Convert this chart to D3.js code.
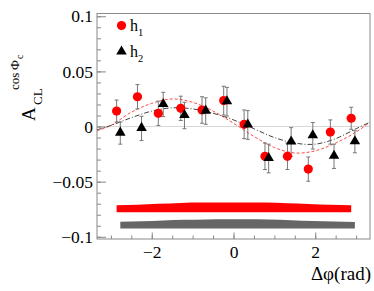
<!DOCTYPE html>
<html>
<head>
<meta charset="utf-8">
<script src="https://cdn.jsdelivr.net/npm/d3@7"></script>
<style>
  html, body { margin: 0; padding: 0; background: #fff; }
</style>
</head>
<body>
<svg id="chart" width="374" height="291"></svg>
<script>
// bin centres (rad) for h1; h2 points sit a bit to the right
const phiH1 = [-2.86, -2.35, -1.84, -1.29, -0.77, -0.24, 0.26, 0.77, 1.32, 1.83, 2.37, 2.88];
const phiH2 = [-2.77, -2.25, -1.72, -1.20, -0.68, -0.16, 0.35, 0.86, 1.41, 1.94, 2.46, 2.97];

const valH1 = [0.014, 0.027, 0.012, 0.0165, 0.015, 0.0235, 0.002, -0.027, -0.027, -0.0386, -0.005, 0.0075];
const errH1 = [0.010, 0.011, 0.011, 0.011, 0.012, 0.013, 0.013, 0.012, 0.012, 0.011, 0.011, 0.010];
const valH2 = [-0.006, -0.0017, 0.020, 0.010, 0.014, 0.0225, 0.0014, -0.029, -0.014, -0.0084, -0.027, -0.0138];
const errH2 = [0.010, 0.011, 0.011, 0.012, 0.012, 0.013, 0.013, 0.013, 0.013, 0.012, 0.011, 0.010];

// systematic bands (base level + height per bin)
const sysBaseH1 = -0.0777;
const sysH1 = [0.0063, 0.0068, 0.0076, 0.0084, 0.0087, 0.0088, 0.0088, 0.0087, 0.0082, 0.0075, 0.0068, 0.0063];
const sysBaseH2 = -0.0925;
const sysH2 = [0.0061, 0.0066, 0.0073, 0.0079, 0.0082, 0.0083, 0.0083, 0.0081, 0.0076, 0.0069, 0.0063, 0.0060];

// fit curves
const fitPhi = [-3.34, -3, -2.5, -2, -1.5, -1, -0.5, 0, 0.5, 1, 1.5, 2, 2.5, 3, 3.34];
const fitH1 = [-0.004, 0.001, 0.013, 0.021, 0.025, 0.022, 0.014, 0.003, -0.009, -0.019, -0.024, -0.022, -0.015, -0.005, 0.004];
const fitH2 = [-0.003, 0.001, 0.008, 0.014, 0.017, 0.016, 0.012, 0.006, -0.002, -0.010, -0.015, -0.016, -0.011, -0.002, 0.004];

const yTicks = [-0.1, -0.05, 0, 0.05, 0.1];
const yTickLabels = ["\u22120.1", "\u22120.05", "0", "0.05", "0.1"];
const xTicks = [-2, 0, 2];
const xTickLabels = ["\u22122", "0", "2"];

(function () {
  const svg = d3.select("#chart");
  const serif = "Liberation Serif";
  const fL = 97, fR = 370, fT = 13.5, fB = 239;

  const x = d3.scaleLinear().domain([-3.34, 3.34]).range([fL, fR]);
  const y = d3.scaleLinear().domain([-0.102, 0.1025]).range([fB, fT]);

  svg.append("defs").append("clipPath").attr("id", "clip")
    .append("rect").attr("x", fL).attr("y", fT)
    .attr("width", fR - fL).attr("height", fB - fT);

  // zero line
  svg.append("line")
    .attr("x1", fL).attr("x2", fR)
    .attr("y1", y(0)).attr("y2", y(0))
    .attr("stroke", "#d8d8d8").attr("stroke-width", 1);

  // axes: ticks point inward
  const yMinor = d3.range(-10, 11).map(i => i / 100);
  svg.append("g").attr("transform", `translate(${fL},0)`)
    .call(d3.axisLeft(y).tickValues(yMinor).tickSize(-4).tickFormat(""))
    .call(g => g.select(".domain").remove())
    .call(g => g.selectAll("line").attr("stroke", "#888"));

  svg.append("g").attr("transform", `translate(${fL},0)`)
    .call(d3.axisLeft(y).tickValues(yTicks).tickSize(-9).tickPadding(4)
      .tickFormat((d, i) => yTickLabels[i]))
    .call(g => g.select(".domain").remove())
    .call(g => g.selectAll("line").attr("stroke", "#888"))
    .call(g => g.selectAll("text").attr("font-family", serif)
      .attr("font-size", 17.5).attr("fill", "#000"));

  const xMinor = d3.range(-6, 7).map(i => i / 2);
  svg.append("g").attr("transform", `translate(0,${fB})`)
    .call(d3.axisBottom(x).tickValues(xMinor).tickSize(-3.5).tickFormat(""))
    .call(g => g.select(".domain").remove())
    .call(g => g.selectAll("line").attr("stroke", "#888"));

  svg.append("g").attr("transform", `translate(0,${fB})`)
    .call(d3.axisBottom(x).tickValues(xTicks).tickSize(-6.5).tickPadding(7)
      .tickFormat((d, i) => xTickLabels[i]))
    .call(g => g.select(".domain").remove())
    .call(g => g.selectAll("line").attr("stroke", "#888"))
    .call(g => g.selectAll("text").attr("font-family", serif)
      .attr("font-size", 17.5).attr("fill", "#000"));

  // frame
  svg.append("rect")
    .attr("x", fL).attr("y", fT)
    .attr("width", fR - fL).attr("height", fB - fT)
    .attr("fill", "none").attr("stroke", "#8a8a8a").attr("stroke-width", 1);

  const plot = svg.append("g").attr("clip-path", "url(#clip)");

  // systematic bands
  const band = (phi, base, sys) => d3.area()
    .x((d, i) => x(phi[i]))
    .y0(() => y(base))
    .y1((d, i) => y(base + sys[i]))
    .curve(d3.curveMonotoneX)(sys);

  plot.append("path").attr("d", band(phiH1, sysBaseH1, sysH1)).attr("fill", "#ff0000");
  plot.append("path").attr("d", band(phiH2, sysBaseH2, sysH2)).attr("fill", "#666666");

  // fit curves
  const fitLine = vals => d3.line()
    .x((d, i) => x(fitPhi[i]))
    .y(d => y(d))
    .curve(d3.curveCatmullRom)(vals);

  plot.append("path").attr("d", fitLine(fitH1))
    .attr("fill", "none").attr("stroke", "#ff4a4a").attr("stroke-width", 1)
    .attr("stroke-dasharray", "3,2");
  plot.append("path").attr("d", fitLine(fitH2))
    .attr("fill", "none").attr("stroke", "#444").attr("stroke-width", 1)
    .attr("stroke-dasharray", "5,2,1,2");

  // error bars
  function errorBars(phi, vals, errs) {
    const g = plot.append("g").attr("stroke", "#777").attr("stroke-width", 1);
    vals.forEach((v, i) => {
      const cx = x(phi[i]);
      g.append("line").attr("x1", cx).attr("x2", cx)
        .attr("y1", y(v - errs[i])).attr("y2", y(v + errs[i]));
      [v - errs[i], v + errs[i]].forEach(e => {
        g.append("line").attr("x1", cx - 2).attr("x2", cx + 2)
          .attr("y1", y(e)).attr("y2", y(e));
      });
    });
  }
  errorBars(phiH1, valH1, errH1);
  errorBars(phiH2, valH2, errH2);

  // markers
  plot.selectAll("circle.h1").data(valH1).join("circle")
    .attr("class", "h1")
    .attr("cx", (d, i) => x(phiH1[i])).attr("cy", d => y(d))
    .attr("r", 4.6).attr("fill", "#ff0000");

  const tri = d3.symbol().type(d3.symbolTriangle).size(48);
  plot.selectAll("path.h2").data(valH2).join("path")
    .attr("class", "h2")
    .attr("d", tri)
    .attr("transform", (d, i) => `translate(${x(phiH2[i])},${y(d) - 0.5})`)
    .attr("fill", "#000");

  // legend
  const legend = svg.append("g");
  legend.append("circle").attr("cx", 121.5).attr("cy", 25.5).attr("r", 4.6).attr("fill", "#ff0000");
  legend.append("path").attr("d", tri).attr("transform", "translate(121.5,51.5)").attr("fill", "#000");
  [["1", 30.5], ["2", 56.5]].forEach(([s, base]) => {
    const t = legend.append("text").attr("font-family", serif)
      .attr("x", 130).attr("y", base).attr("font-size", 16);
    t.append("tspan").text("h");
    t.append("tspan").attr("font-size", 10.5).attr("dy", 5).text(s);
  });

  // y title: A_CL^{cos Φ_c}
  const yt = svg.append("g").attr("transform", "translate(35,121) rotate(-90)");
  const part = (txt, u, v, fs) => yt.append("text").attr("font-family", serif)
    .attr("x", u).attr("y", v).attr("font-size", fs).text(txt);
  part("A", 0, 0, 19);
  part("CL", 16, 7, 13);
  part("cos", 31, -16, 13);
  part("\u03a6", 51, -16, 13.5);
  part("c", 62, -12, 9.5);

  // x title
  svg.append("text")
    .attr("font-family", serif)
    .attr("x", 371).attr("y", 280)
    .attr("text-anchor", "end")
    .attr("font-size", 19)
    .text("\u0394\u03c6(rad)");
})();
</script>
</body>
</html>
